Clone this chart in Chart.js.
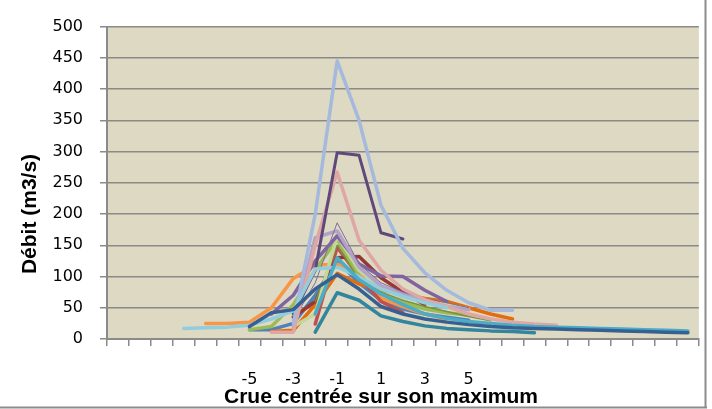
<!DOCTYPE html>
<html>
<head>
<meta charset="utf-8">
<script src="https://cdn.jsdelivr.net/npm/chart.js@4/dist/chart.umd.min.js"></script>
<style>
html,body{margin:0;padding:0;background:#fff;}
#wrap{width:712px;height:409px;position:relative;}
</style>
</head>
<body>
<div id="wrap"><canvas id="c" width="712" height="409"></canvas></div>
<script>
// x categories: days relative to flood peak
const categories = [-11,-10,-9,-8,-7,-6,-5,-4,-3,-2,-1,0,1,2,3,4,5,6,7,8,9,10,11,12,13,14,15];
const xTickLabels = ['','','','','','','-5','','-3','','-1','','1','','3','','5','','','','','','','','','',''];
const yTicks = [0,50,100,150,200,250,300,350,400,450,500];

// each series: first x value, then the values from that x onward
const crueA_start = -3; const crueA = [25, 200, 445, 350, 214, 145, 106, 78, 58, 46, 46];
const crueB_start = -3; const crueB = [40, 110, 298, 294, 170, 160];
const crueC_start = -4; const crueC = [11, 11, 150, 267, 158, 110, 80, 63, 52, 40, 32, 27, 24, 22];
const crueD_start = -4; const crueD = [40, 70, 125, 165, 120, 101, 100, 78, 60];
const crueE_start = -3; const crueE = [20, 162, 173, 115, 85, 72, 62, 52, 47];
const crueF_start = -3; const crueF = [30, 90, 186, 120, 90, 75, 65, 58, 50];
const crueG_start = -5; const crueG = [15, 20, 55, 110, 160, 100, 72, 58, 48, 42, 38];
const crueH_start = -2; const crueH = [60, 150, 95, 75, 62, 52, 44, 36, 29];
const crueI_start = -3; const crueI = [20, 40, 165, 110, 82, 68, 60, 55, 48];
const crueJ_start = -2; const crueJ = [24, 147, 100, 60, 42];
const crueK_start = -3; const crueK = [35, 60, 130, 132, 98, 75, 55];
const crueL_start = -2; const crueL = [40, 130, 95, 72, 55, 40, 33, 28, 25, 22, 20, 19, 18, 17, 16, 15, 14, 13];
const crueM_start = -7; const crueM = [25, 25, 27, 50, 97, 118, 120, 105, 65, 52, 40, 32];
const crueN_start = -4; const crueN = [12, 14, 55, 105, 88, 78, 72, 65, 60, 50, 40, 32];
const crueO_start = -5; const crueO = [20, 42, 47, 80, 103, 80, 52, 40, 32, 27, 23, 20, 18, 17, 16, 15, 14, 13, 12, 11, 10];
const crueP_start = -5; const crueP = [15, 15, 25, 70, 125, 90, 62, 48, 40, 35, 30];
const crueQ_start = -2; const crueQ = [11, 74, 62, 37, 28, 21, 17, 15, 13, 12, 10];
const crueR_start = -8; const crueR = [17, 18, 19, 22, 32, 45, 112, 115, 100, 80, 68, 58, 50];

function pad(start, vals){
  const out = categories.map(() => null);
  const i0 = categories.indexOf(start);
  vals.forEach((v, k) => { out[i0 + k] = v; });
  return out;
}

const seriesDefs = [
  {d: pad(crueO_start, crueO), c: '#376092', w: 3.5},
  {d: pad(crueL_start, crueL), c: '#4BACC6', w: 3.5},
  {d: pad(crueQ_start, crueQ), c: '#31859C', w: 3.5},
  {d: pad(crueR_start, crueR), c: '#93CDDD', w: 3.5},
  {d: pad(crueA_start, crueA), c: '#A5B9DC', w: 3.5},
  {d: pad(crueB_start, crueB), c: '#5F497A', w: 3},
  {d: pad(crueC_start, crueC), c: '#DEA7A6', w: 3.5},
  {d: pad(crueF_start, crueF), c: '#7D6E9C', w: 1},
  {d: pad(crueE_start, crueE), c: '#B3A2C7', w: 3.5},
  {d: pad(crueD_start, crueD), c: '#8064A2', w: 3.5},
  {d: pad(crueI_start, crueI), c: '#C3D69B', w: 3.5},
  {d: pad(crueH_start, crueH), c: '#77933C', w: 1.5},
  {d: pad(crueG_start, crueG), c: '#9BBB59', w: 3.5},
  {d: pad(crueK_start, crueK), c: '#953735', w: 3.5},
  {d: pad(crueJ_start, crueJ), c: '#C0504D', w: 3.5},
  {d: pad(crueN_start, crueN), c: '#E46C0A', w: 3.5},
  {d: pad(crueM_start, crueM), c: '#F79646', w: 3.5},
  {d: pad(crueP_start, crueP), c: '#4F81BD', w: 3.5}
];

const datasets = seriesDefs.map((s, i) => ({
  label: 'Crue ' + (i + 1),
  data: s.d,
  borderColor: s.c,
  backgroundColor: s.c,
  borderWidth: s.w,
  pointRadius: 0,
  pointHoverRadius: 0,
  tension: 0,
  fill: false,
  spanGaps: false,
  borderJoinStyle: 'round',
  borderCapStyle: 'round'
}));

const GRID = '#8A8A8A';

const decor = {
  id: 'decor',
  beforeDraw(chart){
    const {ctx, chartArea: a} = chart;
    ctx.save();
    ctx.fillStyle = '#DDD9C3';
    ctx.fillRect(a.left, a.top, a.right - a.left, a.bottom - a.top);
    ctx.restore();
  },
  afterDraw(chart){
    const ctx = chart.ctx;
    ctx.save();
    ctx.strokeStyle = '#8C8C8C';
    ctx.lineWidth = 2;
    ctx.beginPath();
    ctx.moveTo(0, 407.5); ctx.lineTo(707, 407.5);
    ctx.moveTo(705.5, 0); ctx.lineTo(705.5, 408);
    ctx.stroke();
    ctx.fillStyle = '#000';
    ctx.font = 'bold 21px "Liberation Sans", Arial, sans-serif';
    ctx.textAlign = 'center';
    ctx.textBaseline = 'alphabetic';
    ctx.fillText('Crue centrée sur son maximum', 381, 403);
    ctx.translate(36, 214);
    ctx.rotate(-Math.PI / 2);
    ctx.fillText('Débit (m3/s)', 0, 0);
    ctx.restore();
  }
};

new Chart(document.getElementById('c'), {
  type: 'line',
  data: { labels: categories, datasets },
  options: {
    responsive: false,
    animation: false,
    devicePixelRatio: 1,
    layout: { padding: { top: 13, right: 7, left: 0, bottom: 0 } },
    plugins: { legend: { display: false }, tooltip: { enabled: false }, title: { display: false } },
    scales: {
      x: {
        type: 'category',
        offset: true,
        grid: { offset: true, drawOnChartArea: false, drawTicks: true, tickLength: 7, color: GRID, lineWidth: 1.5 },
        border: { display: true, color: GRID, width: 2 },
        ticks: {
          autoSkip: false, maxRotation: 0, minRotation: 0, padding: 24,
          color: '#000', font: { family: '"DejaVu Sans", sans-serif', size: 16 },
          callback: (v, i) => xTickLabels[i]
        },
        afterFit: s => { s.height = 70; }
      },
      y: {
        min: 0, max: 500,
        afterBuildTicks: s => { s.ticks = yTicks.map(v => ({ value: v })); },
        grid: { color: GRID, lineWidth: 1.5, tickLength: 7, drawTicks: true },
        border: { display: true, color: GRID, width: 2 },
        ticks: { padding: 17, color: '#000', font: { family: '"DejaVu Sans", sans-serif', size: 16 } },
        afterFit: s => { s.width = 107; }
      }
    }
  },
  plugins: [decor]
});
</script>
</body>
</html>
